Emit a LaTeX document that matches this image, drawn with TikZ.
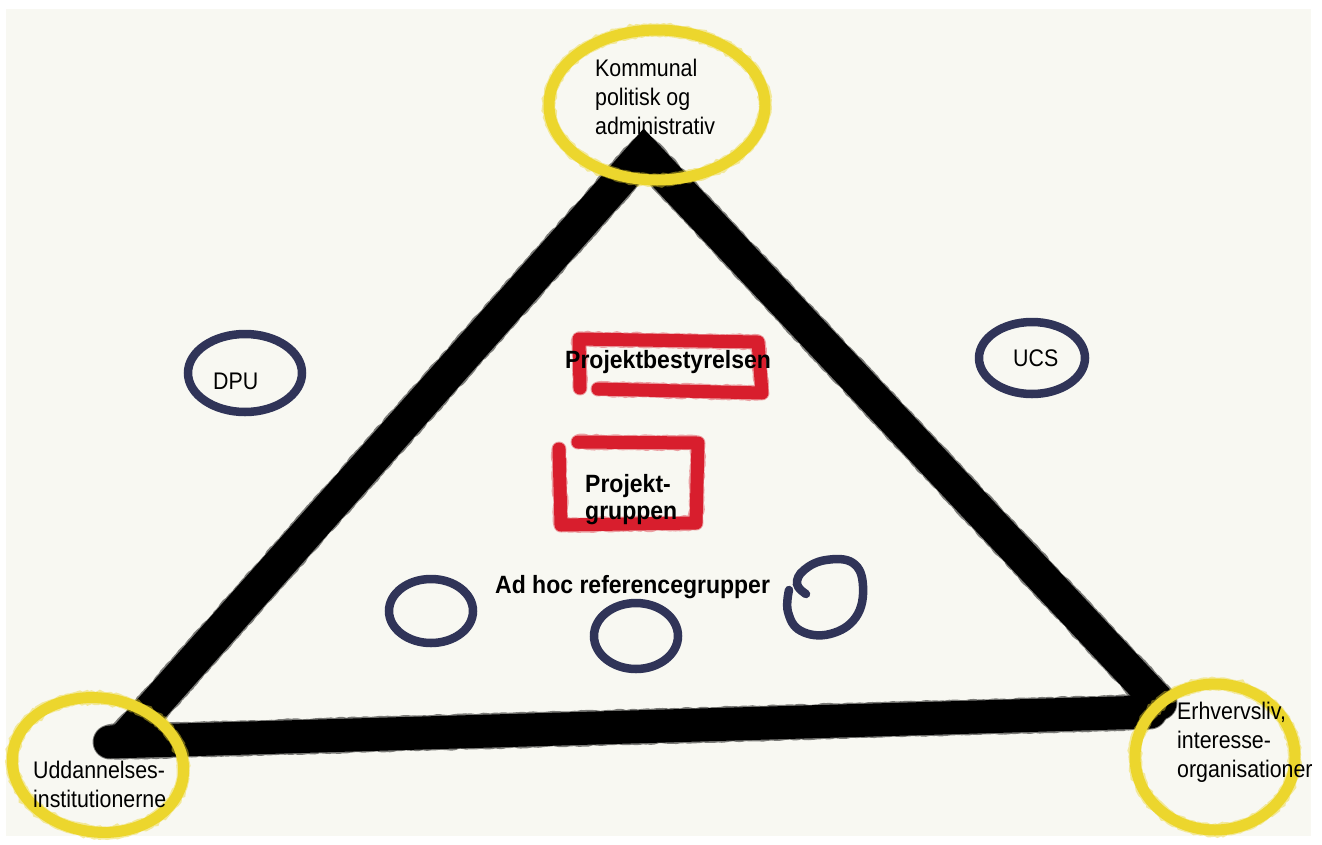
\documentclass[tikz,border=0pt]{standalone}
\usepackage{fontspec}
\setmainfont{Liberation Sans}[FakeStretch=0.89,BoldFeatures={FakeStretch=0.92}]
\usetikzlibrary{decorations.pathmorphing}
\definecolor{paper}{HTML}{F8F8F2}
\definecolor{crayonyellow}{HTML}{ECD62D}
\definecolor{crayonred}{HTML}{D81E2D}
\definecolor{inknavy}{HTML}{303458}
\tikzset{
  chalk/.style={draw=black, line width=33pt, line join=miter, line cap=round},
  chalkrough/.style={draw=black, line width=35pt, line join=round, line cap=round, opacity=.5,
    decorate, decoration={random steps, segment length=2.5pt, amplitude=1pt}},
  yring/.style={draw=crayonyellow, line width=11pt},
  yringrough/.style={draw=crayonyellow, line width=13pt, opacity=.45,
    decorate, decoration={random steps, segment length=3pt, amplitude=1pt}},
  redbox/.style={draw=crayonred, line width=13pt, line join=round, line cap=round},
  redboxrough/.style={draw=crayonred, line width=15pt, line join=round, line cap=round, opacity=.4,
    decorate, decoration={random steps, segment length=3pt, amplitude=1pt}},
  navyring/.style={draw=inknavy, line width=8.5pt, line cap=round},
  lab/.style={inner sep=0pt, align=left, font=\fontsize{24}{29}\selectfont},
  boldlab/.style={inner sep=0pt, align=left, font=\fontsize{25}{27}\selectfont\bfseries},
}
\begin{document}
\begin{tikzpicture}[x=1pt,y=-1pt]
\useasboundingbox (0,0) rectangle (1322,844);
\fill[white] (0,0) rectangle (1322,844);
\fill[paper] (6,9) rectangle (1311,836);

% triangle corners
\coordinate (apex) at (644,153);
\coordinate (bl) at (126,737);
\coordinate (blx) at (110,742);
\coordinate (br) at (1150,712);
\coordinate (brx) at (1160,703);

\draw[chalkrough] (bl) -- (apex) -- (brx);
\draw[chalkrough] (br) -- (blx);
\draw[chalk] (bl) -- (apex) -- (brx);
\draw[chalk] (br) -- (blx);

% yellow rings
\coordinate (ytop) at (657,105);
\coordinate (yleft) at (98,765);
\coordinate (yright) at (1215,757);
\draw[yring] (ytop) ellipse [x radius=108, y radius=75];
\draw[yringrough] (ytop) ellipse [x radius=108, y radius=75];
\draw[yring, rotate around={-8:(yleft)}] (yleft) ellipse [x radius=86, y radius=67];
\draw[yringrough, rotate around={-8:(yleft)}] (yleft) ellipse [x radius=86, y radius=67];
\draw[yring] (yright) ellipse [x radius=80, y radius=73];
\draw[yringrough] (yright) ellipse [x radius=80, y radius=73];

% red boxes
\draw[redbox] (598,389) -- (762,393) -- (758,342) -- (579,339) -- (580,388);
\draw[redboxrough] (598,389) -- (762,393) -- (758,342) -- (579,339) -- (580,388);
\draw[redbox] (559,449) -- (561,525) -- (696,523) -- (698,443) -- (578,442);
\draw[redboxrough] (559,449) -- (561,525) -- (696,523) -- (698,443) -- (578,442);

% navy rings
\draw[navyring] (245,373) ellipse [x radius=57, y radius=39];
\draw[navyring] (1032,358) ellipse [x radius=53, y radius=36];
\draw[navyring] (431,611) ellipse [x radius=42, y radius=32];
\draw[navyring] (636,636) ellipse [x radius=42, y radius=33];
\draw[navyring] plot[smooth, tension=.7] coordinates {(806,594) (797,584) (804,570) (826,560) (853,563) (863,586) (856,617) (830,634) (801,631) (788,612) (789,590)};

% labels
\node[lab, anchor=north west] (kommunal) at (595,58.8) {Kommunal\\politisk og\\administrativ};
\node[lab, anchor=north west] (udd) at (33,760.8) {Uddannelses-\\institutionerne};
\node[lab, anchor=north west] (erhv) at (1177,701.8) {Erhvervsliv,\\interesse-\\organisationer};
\node[lab, anchor=base west] (dpu) at (213,389) {DPU};
\node[lab, anchor=base west] (ucs) at (1013,366) {UCS};
\node[boldlab, anchor=base west] (pbest) at (565,368) {Projektbestyrelsen};
\node[boldlab, anchor=north west] (pgrp) at (585,474) {Projekt-\\gruppen};
\node[boldlab, anchor=base west] (adhoc) at (495,593) {Ad hoc referencegrupper};
\end{tikzpicture}
\end{document}
